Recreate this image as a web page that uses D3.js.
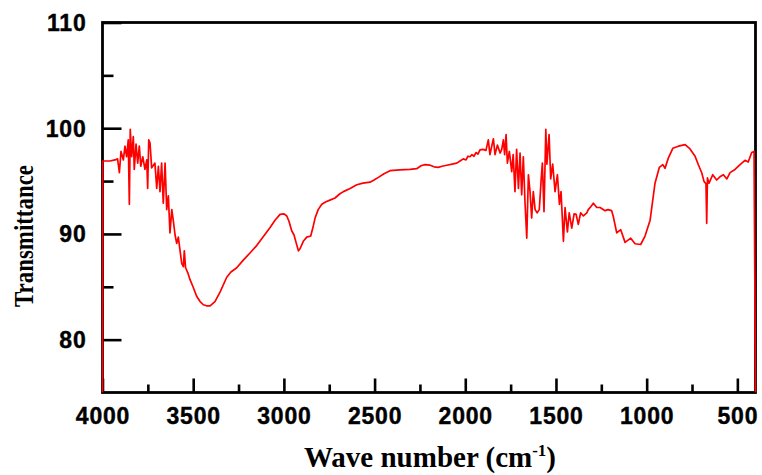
<!DOCTYPE html>
<html>
<head>
<meta charset="utf-8">
<script src="https://cdn.jsdelivr.net/npm/d3@7"></script>
<style>
  body { margin: 0; background: #fff; }
  svg { display: block; }
  .tick text { font-family: "Liberation Sans", Arial, sans-serif; font-weight: bold; font-size: 23px; letter-spacing: 0.8px; fill: #000; stroke: #000; stroke-width: 0.4px; }
  .tick line { stroke: #000; stroke-width: 2.6; }
  .title { font-family: "Liberation Serif", "Times New Roman", serif; font-weight: bold; fill: #000; }
</style>
</head>
<body>
<div id="chart"></div>
<script>
// IR spectrum (wave number cm-1, transmittance)
var waveNumbers = [4000, 3999, 3959, 3931, 3917, 3907, 3898, 3885, 3876, 3867, 3858, 3852, 3847, 3839, 3830, 3825,
  3815, 3806, 3797, 3789, 3778, 3766, 3756, 3751, 3745, 3738, 3729, 3711, 3701, 3692, 3683, 3674, 3665, 3655,
  3646, 3637, 3628, 3618, 3610, 3600, 3591, 3582, 3573, 3563, 3554, 3549, 3542, 3529, 3518, 3501, 3481, 3462,
  3444, 3426, 3407, 3380, 3352, 3315, 3292, 3260, 3225, 3187, 3150, 3115, 3076, 3049, 3021, 2999, 2984, 2972,
  2957, 2944, 2933, 2920, 2911, 2893, 2874, 2852, 2840, 2828, 2811, 2791, 2768, 2746, 2718, 2691, 2672, 2635,
  2598, 2564, 2525, 2503, 2479, 2448, 2415, 2360, 2305, 2268, 2244, 2222, 2194, 2172, 2149, 2128, 2102, 2073,
  2047, 2029, 2011, 1996, 1985, 1974, 1963, 1952, 1941, 1930, 1919, 1902, 1886, 1873, 1864, 1854, 1845, 1836,
  1823, 1808, 1799, 1790, 1783, 1775, 1768, 1757, 1744, 1736, 1726, 1717, 1707, 1698, 1689, 1680, 1671, 1661,
  1652, 1643, 1634, 1625, 1615, 1604, 1592, 1581, 1575, 1566, 1556, 1550, 1538, 1529, 1518, 1505, 1492, 1481,
  1472, 1459, 1450, 1437, 1427, 1413, 1400, 1389, 1377, 1364, 1349, 1330, 1322, 1307, 1294, 1275, 1257, 1229,
  1213, 1193, 1184, 1165, 1143, 1119, 1088, 1064, 1033, 1009, 981, 954, 930, 911, 899, 880, 856, 825, 788,
  761, 733, 715, 696, 684, 673, 669, 665, 656, 636, 614, 596, 577, 558, 540, 513, 485, 458, 440, 421, 408, 400];

var transmittance = [75, 96.9, 96.9, 97.0, 97.1, 95.8, 97.8, 97.0, 98.3, 97.3, 98.9, 92.8, 99.9, 97.3, 99.2, 96.1,
  98.5, 96.7, 98.3, 96.4, 97.3, 96.1, 97.0, 94.3, 98.9, 98.6, 96.25, 96.7, 94.3, 96.4, 94.0, 96.7, 92.9, 96.7,
  92.3, 93.6, 90.1, 92.3, 91.3, 89.9, 89.1, 89.7, 88.5, 87.2, 86.9, 88.4, 86.8, 86.3, 85.7, 85.0, 84.1, 83.6,
  83.3, 83.2, 83.2, 83.6, 84.5, 85.9, 86.4, 86.8, 87.5, 88.2, 88.9, 89.7, 90.6, 91.3, 91.85, 91.9, 91.7, 91.2,
  90.3, 89.9, 89.2, 88.4, 88.6, 89.3, 89.7, 89.8, 90.6, 91.5, 92.3, 92.8, 93.05, 93.2, 93.4, 93.8, 94.0, 94.3,
  94.65, 94.8, 94.9, 95.1, 95.35, 95.7, 95.98, 96.05, 96.1, 96.17, 96.45, 96.55, 96.5, 96.35, 96.3, 96.4, 96.5, 96.6,
  96.7, 96.9, 97.1, 97.0, 97.35, 97.3, 97.5, 97.35, 97.7, 97.55, 97.95, 98.0, 97.9, 98.9, 97.5, 98.3, 99.0, 97.5,
  98.4, 97.65, 98.0, 98.9, 97.5, 99.4, 96.7, 97.8, 95.9, 97.5, 94.0, 98.0, 94.3, 97.65, 93.7, 97.3, 93.1, 89.6,
  95.6, 94.0, 91.5, 94.0, 92.3, 92.0, 92.3, 95.3, 96.7, 92.1, 99.9, 96.6, 99.4, 95.2, 96.6, 94.0, 95.6, 92.8,
  94.0, 89.3, 92.5, 90.2, 92.0, 90.55, 91.9, 91.85, 90.9, 92.0, 91.7, 92.0, 92.3, 92.6, 92.9, 92.5, 92.5, 92.2,
  92.3, 92.2, 91.65, 90.1, 90.4, 89.2, 89.6, 89.07, 89.0, 89.8, 91.3, 94.8, 96.3, 96.55, 96.2, 97.2, 98.1, 98.3, 98.45,
  98.04, 97.34, 96.55, 95.76, 94.97, 94.75, 91.0, 95.3, 94.8, 95.6, 95.1, 95.4, 95.6, 95.2, 95.8, 96.1, 96.55, 96.96, 96.8, 97.7, 97.8, 75];

var xMajorTicks = [4000, 3500, 3000, 2500, 2000, 1500, 1000, 500];
var xMinorTicks = [3750, 3250, 2750, 2250, 1750, 1250, 750];
var yMajorTicks = [80, 90, 100, 110];
var yMinorTicks = [85, 95, 105];

const size = { width: 762, height: 475 };
const margin = { top: 22.5, right: 6.5, bottom: 82.5, left: 102.5 };
const w = size.width - margin.left - margin.right;
const h = size.height - margin.top - margin.bottom;

const points = waveNumbers.map((v, i) => [v, transmittance[i]]);

const x = d3.scaleLinear().domain([4000, 400]).range([0, w]);
const y = d3.scaleLinear().domain([75, 110]).range([h, 0]);

let svg = d3.select("#chart").append("svg")
    .attr("width", size.width)
    .attr("height", size.height);

let g = svg.append("g")
    .attr("transform", `translate(${margin.left},${margin.top})`);

// a little wider than the plot so the edge segments keep their full stroke
g.append("clipPath").attr("id", "plot-clip")
    .append("rect")
    .attr("x", -2)
    .attr("y", -2)
    .attr("width", w + 4)
    .attr("height", h + 2);

// minor ticks first, then the major ones with labels
g.append("g")
    .attr("transform", `translate(0,${h})`)
    .call(d3.axisBottom(x).tickValues(xMinorTicks).tickSize(-8).tickSizeOuter(0).tickFormat(""))
    .call(a => a.select(".domain").remove());

g.append("g")
    .attr("transform", `translate(0,${h})`)
    .call(d3.axisBottom(x).tickValues(xMajorTicks).tickSize(-14).tickSizeOuter(0).tickPadding(15).tickFormat(d3.format("d")))
    .call(a => a.select(".domain").remove());

g.append("g")
    .call(d3.axisLeft(y).tickValues(yMinorTicks).tickSize(-11).tickSizeOuter(0).tickFormat(""))
    .call(a => a.select(".domain").remove());

g.append("g")
    .call(d3.axisLeft(y).tickValues(yMajorTicks).tickSize(-19).tickSizeOuter(0).tickPadding(16).tickFormat(d3.format("d")))
    .call(a => a.select(".domain").remove())
    .call(a => a.selectAll("text").attr("dy", "0.34em"));

// frame
g.append("rect")
    .attr("width", w)
    .attr("height", h)
    .attr("fill", "none")
    .attr("stroke", "#000")
    .attr("stroke-width", 2.8);

// spectrum drawn over the frame, like the original
g.append("path")
    .datum(points)
    .attr("clip-path", "url(#plot-clip)")
    .attr("fill", "none")
    .attr("stroke", "#ff0000")
    .attr("stroke-width", 1.7)
    .attr("stroke-linejoin", "round")
    .attr("d", d3.line().x(d => x(d[0])).y(d => y(d[1])));

// axis titles
let xTitle = svg.append("text")
    .attr("class", "title")
    .attr("x", 430)
    .attr("y", 467)
    .attr("text-anchor", "middle")
    .style("font-size", "29px");
xTitle.append("tspan").text("Wave number (cm");
xTitle.append("tspan").attr("dy", -11).style("font-size", "17px").text("-1");
xTitle.append("tspan").attr("dy", 11).text(")");

svg.append("text")
    .attr("class", "title")
    .attr("transform", "translate(33,236) rotate(-90)")
    .attr("text-anchor", "middle")
    .attr("textLength", 142)
    .attr("lengthAdjust", "spacingAndGlyphs")
    .style("font-size", "28px")
    .text("Transmittance");
</script>
</body>
</html>
